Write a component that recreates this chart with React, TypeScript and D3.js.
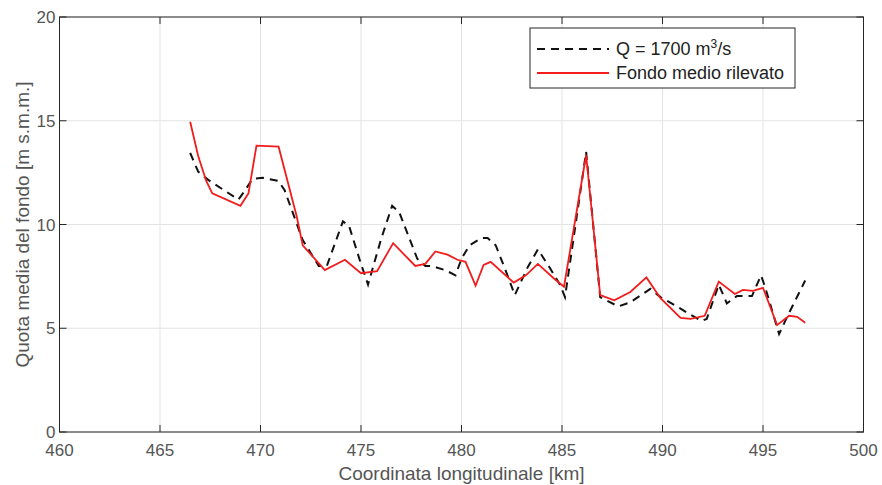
import React from "react";
import * as d3 from "d3";

const xTicks = [460, 465, 470, 475, 480, 485, 490, 495, 500];
const yTicks = [0, 5, 10, 15, 20];

const fondoX = [466.5, 466.9, 467.3, 467.6, 469.0, 469.4, 469.8, 470.9, 471.8, 472.1, 473.2, 474.2, 475.0, 475.8, 476.6, 477.7, 478.2, 478.7, 479.3, 479.8, 480.2, 480.7, 481.1, 481.45, 482.6, 483.2, 483.8, 484.6, 485.1, 486.2, 486.9, 487.6, 488.4, 489.2, 489.9, 490.9, 491.4, 492.1, 492.8, 493.6, 494.0, 494.5, 495.0, 495.7, 496.3, 496.7, 497.1];
const fondoY = [14.95, 13.3, 12.1, 11.5, 10.9, 11.5, 13.8, 13.75, 10.4, 9.0, 7.8, 8.3, 7.65, 7.75, 9.1, 8.0, 8.1, 8.7, 8.55, 8.3, 8.2, 7.05, 8.05, 8.2, 7.2, 7.55, 8.1, 7.4, 7.0, 13.35, 6.6, 6.35, 6.75, 7.45, 6.45, 5.5, 5.45, 5.6, 7.25, 6.65, 6.85, 6.8, 6.95, 5.15, 5.6, 5.55, 5.27];

const qX = [466.5, 466.9, 467.4, 468.9, 469.2, 469.6, 470.1, 470.9, 471.2, 471.8, 472.1, 472.9, 473.3, 474.1, 474.4, 475.0, 475.35, 476.0, 476.55, 476.9, 477.8, 478.2, 478.5, 479.2, 479.7, 480.0, 480.4, 481.0, 481.3, 481.7, 482.25, 482.65, 483.3, 483.8, 484.4, 484.9, 485.15, 486.2, 486.9, 487.8, 488.4, 489.4, 489.9, 490.8, 491.3, 491.95, 492.2, 492.8, 493.2, 493.7, 494.45, 494.9, 495.1, 495.8, 496.2, 497.1];
const qY = [13.45, 12.55, 12.15, 11.2, 11.6, 12.2, 12.25, 12.1, 11.65, 10.05, 9.25, 8.0, 8.0, 10.15, 9.95, 8.1, 7.1, 9.3, 10.9, 10.6, 8.35, 8.0, 8.0, 7.8, 7.55, 8.35, 9.0, 9.35, 9.35, 9.0, 7.65, 6.6, 7.95, 8.8, 7.9, 7.1, 6.5, 13.5, 6.5, 6.05, 6.25, 6.9, 6.5, 6.0, 5.7, 5.35, 5.45, 7.1, 6.2, 6.55, 6.55, 7.55, 7.0, 4.72, 5.55, 7.3];

const W = 882;
const H = 485;
const L = 59.5, R = 863.5, T = 17, B = 432;

export default function App() {
  const x = d3.scaleLinear().domain([460, 500]).range([L, R]);
  const y = d3.scaleLinear().domain([0, 20]).range([B, T]);
  const line = d3.line<[number, number]>().x(d => x(d[0])).y(d => y(d[1]));
  const fondo = fondoX.map((v, i) => [v, fondoY[i]] as [number, number]);
  const q = qX.map((v, i) => [v, qY[i]] as [number, number]);
  const font = "'Liberation Sans', Arial, sans-serif";
  const axisColor = "#262626";
  const tickColor = "#555";
  return (
    <svg width={W} height={H} style={{ position: "absolute", left: 0, top: 0, background: "#fff" }} fontFamily={font}>
      <rect x={0} y={0} width={W} height={H} fill="#fff" />
      {xTicks.map(t => (
        <line key={"gx" + t} x1={x(t)} x2={x(t)} y1={T} y2={B} stroke="#e3e3e3" strokeWidth={1} />
      ))}
      {yTicks.map(t => (
        <line key={"gy" + t} x1={L} x2={R} y1={y(t)} y2={y(t)} stroke="#e3e3e3" strokeWidth={1} />
      ))}
      {xTicks.map(t => (
        <g key={"tx" + t}>
          <line x1={x(t)} x2={x(t)} y1={B} y2={B - 7} stroke={axisColor} strokeWidth={1} />
          <line x1={x(t)} x2={x(t)} y1={T} y2={T + 7} stroke={axisColor} strokeWidth={1} />
          <text x={x(t)} y={B + 24} fontSize={17} textAnchor="middle" fill={tickColor}>{t}</text>
        </g>
      ))}
      {yTicks.map(t => (
        <g key={"ty" + t}>
          <line x1={L} x2={L + 7} y1={y(t)} y2={y(t)} stroke={axisColor} strokeWidth={1} />
          <line x1={R} x2={R - 7} y1={y(t)} y2={y(t)} stroke={axisColor} strokeWidth={1} />
          <text x={L - 4} y={y(t) + 6} fontSize={17} textAnchor="end" fill={tickColor}>{t}</text>
        </g>
      ))}
      <rect x={L} y={T} width={R - L} height={B - T} fill="none" stroke={axisColor} strokeWidth={1} />
      <path d={line(q) || ""} fill="none" stroke="#111" strokeWidth={2} strokeDasharray="8,6" />
      <path d={line(fondo) || ""} fill="none" stroke="#f21c1c" strokeWidth={1.8} />
      <text x={(L + R) / 2} y={480} fontSize={19} textAnchor="middle" fill={tickColor}>Coordinata longitudinale [km]</text>
      <text transform={`translate(29,${(T + B) / 2}) rotate(-90)`} fontSize={19} textAnchor="middle" fill={tickColor}>Quota media del fondo [m s.m.m.]</text>
      <g>
        <rect x={530} y={28} width={265} height={60} fill="#fff" stroke={axisColor} strokeWidth={1} />
        <line x1={537} x2={609} y1={49} y2={49} stroke="#111" strokeWidth={2} strokeDasharray="8,6" />
        <line x1={537} x2={609} y1={73} y2={73} stroke="#f21c1c" strokeWidth={1.8} />
        <text x={616} y={55} fontSize={18} fill="#222">
          Q = 1700 m<tspan dy={-7} fontSize={12}>3</tspan><tspan dy={7}>/s</tspan>
        </text>
        <text x={616} y={79} fontSize={18} fill="#222">Fondo medio rilevato</text>
      </g>
    </svg>
  );
}
